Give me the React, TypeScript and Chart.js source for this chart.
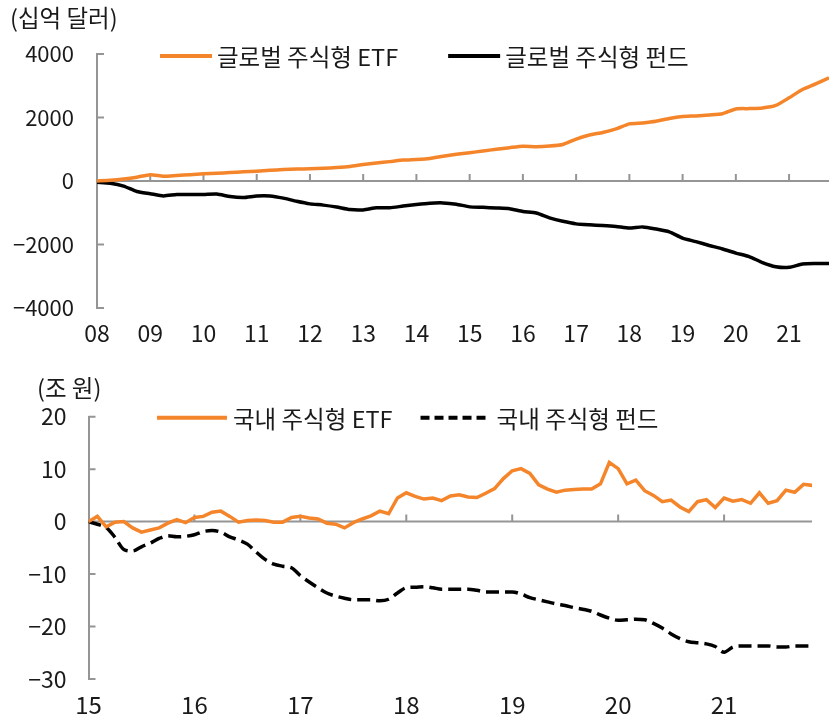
import React, { useEffect, useRef } from 'react';
import { Chart, registerables } from 'chart.js';

Chart.register(...registerables);

const FONT = "'Noto Sans CJK KR', 'Noto Sans', sans-serif";
const ORANGE = '#F5852A';
const BLACK = '#000000';
const AXIS = '#959595';
const TEXT = '#1a1a1a';

// ---------- Top chart: global equity ETF vs fund (billion USD), quarterly from 2008 ----------
const TOP_TITLE = '(십억 달러)';
const TOP_START = 8;
const TOP_STEP = 0.25;
const TOP_SERIES_NAMES = ['글로벌 주식형 ETF', '글로벌 주식형 펀드'];
const GLOBAL_ETF = [
  0, 20, 60, 120, 200, 150, 175, 200,
  225, 245, 265, 290, 310, 335, 360, 375,
  385, 400, 425, 460, 520, 570, 610, 660,
  680, 710, 780, 840, 890, 945, 1000, 1050,
  1095, 1080, 1100, 1150, 1320, 1450, 1530, 1640,
  1800, 1830, 1880, 1970, 2030, 2050, 2080, 2120,
  2270, 2280, 2300, 2380, 2620, 2880, 3060, 3250,
];
const GLOBAL_FUND = [
  -40, -70, -160, -330, -400, -470, -425, -425,
  -425, -410, -490, -520, -470, -470, -540, -640,
  -720, -760, -820, -900, -910, -845, -845, -790,
  -740, -700, -690, -730, -815, -830, -850, -875,
  -960, -1010, -1160, -1270, -1350, -1380, -1400, -1430,
  -1480, -1445, -1510, -1600, -1800, -1910, -2030, -2140,
  -2270, -2380, -2570, -2700, -2720, -2615, -2600, -2600,
];
const TOP_YEARS = [8, 9, 10, 11, 12, 13, 14, 15, 16, 17, 18, 19, 20, 21];
const TOP_YEAR_LABELS = ['08', '09', '10', '11', '12', '13', '14', '15', '16', '17', '18', '19', '20', '21'];
const TOP_Y_TICKS = [-4000, -2000, 0, 2000, 4000];

// ---------- Bottom chart: domestic equity ETF vs fund (trillion KRW), monthly from 2015 ----------
const BOT_TITLE = '(조 원)';
const BOT_START = 15;
const BOT_STEP = 1 / 12;
const BOT_SERIES_NAMES = ['국내 주식형 ETF', '국내 주식형 펀드'];
const KR_ETF = [
  0, 1.0, -1.0, -0.1, 0, -1.2, -2.0, -1.6, -1.2, -0.3, 0.4, -0.2,
  0.8, 1.0, 1.8, 2.0, 1.0, -0.1, 0.2, 0.3, 0.2, -0.1, -0.1, 0.8,
  1.0, 0.7, 0.5, -0.3, -0.5, -1.2, -0.2, 0.5, 1.1, 2.0, 1.5, 4.5,
  5.5, 4.8, 4.3, 4.5, 4.0, 4.9, 5.1, 4.7, 4.6, 5.4, 6.3, 8.2,
  9.7, 10.1, 9.2, 7.0, 6.2, 5.6, 6.0, 6.1, 6.2, 6.2, 7.2, 11.3,
  10.1, 7.2, 7.9, 5.9, 5.0, 3.8, 4.1, 2.8, 1.9, 3.8, 4.2, 2.7,
  4.5, 3.9, 4.2, 3.5, 5.5, 3.5, 4.0, 6.0, 5.6, 7.1, 6.9,
];
const KR_FUND = [
  0, -0.5, -1.1, -3.0, -5.3, -5.6, -4.8, -4.1, -3.2, -2.7, -2.9, -2.8,
  -2.5, -1.9, -1.7, -2.0, -2.9, -3.5, -4.3, -5.8, -7.2, -8.1, -8.5, -8.8,
  -10.3, -11.5, -12.6, -13.6, -14.2, -14.6, -14.9, -14.9, -14.9, -15.1, -14.8, -13.6,
  -12.6, -12.5, -12.4, -12.6, -12.9, -12.9, -12.9, -12.9, -13.1, -13.4, -13.4, -13.4,
  -13.4, -13.8, -14.5, -14.9, -15.3, -15.7, -16.0, -16.4, -16.7, -17.1, -17.8, -18.4,
  -18.8, -18.7, -18.6, -18.7, -19.4, -20.3, -21.4, -22.3, -22.9, -23.1, -23.3, -23.8,
  -24.9, -23.9, -23.7, -23.7, -23.7, -23.7, -23.9, -23.9, -23.7, -23.7, -23.7,
];
const BOT_YEARS = [15, 16, 17, 18, 19, 20, 21];
const BOT_YEAR_LABELS = ['15', '16', '17', '18', '19', '20', '21'];
const BOT_Y_TICKS = [-30, -20, -10, 0, 10, 20];

const toPoints = (vals: number[], start: number, step: number) =>
  vals.map((v, i) => ({ x: start + i * step, y: v }));

const fmtNum = (v: number) => (v < 0 ? '\u2212' + Math.abs(v) : String(v));

const decorPlugin = {
  id: 'decor',
  beforeDatasetsDraw(chart: any, _args: any, opts: any) {
    const { ctx, chartArea } = chart;
    const xs = chart.scales.x;
    const ys = chart.scales.y;
    const y0 = ys.getPixelForValue(0);
    ctx.save();
    ctx.strokeStyle = AXIS;
    ctx.lineWidth = 2;
    ctx.beginPath();
    ctx.moveTo(chartArea.left, y0);
    ctx.lineTo(chartArea.right, y0);
    ys.ticks.forEach((t: any) => {
      const y = ys.getPixelForValue(t.value);
      ctx.moveTo(chartArea.left, y);
      ctx.lineTo(chartArea.left + opts.tickLen, y);
    });
    xs.ticks.forEach((t: any) => {
      const x = xs.getPixelForValue(t.value);
      if (Math.abs(x - chartArea.left) < 2) return;
      ctx.moveTo(x, y0);
      ctx.lineTo(x, y0 - opts.tickLen);
    });
    ctx.stroke();
    ctx.restore();
  },
  afterDraw(chart: any, _args: any, opts: any) {
    const ctx = chart.ctx;
    ctx.save();
    ctx.font = `${opts.fontSize}px ${FONT}`;
    ctx.fillStyle = TEXT;
    ctx.textBaseline = 'middle';
    ctx.textAlign = 'left';
    ctx.fillText(opts.title, opts.titleX, opts.titleY);
    let x = opts.legendX;
    const y = opts.legendY;
    chart.data.datasets.forEach((ds: any) => {
      ctx.strokeStyle = ds.borderColor;
      ctx.lineWidth = opts.legendLineWidth;
      ctx.lineCap = 'butt';
      ctx.setLineDash(ds.borderDash && ds.borderDash.length ? opts.legendDash : []);
      ctx.beginPath();
      ctx.moveTo(x, y);
      ctx.lineTo(x + opts.legendLine, y);
      ctx.stroke();
      ctx.setLineDash([]);
      x += opts.legendLine + opts.legendTextGap;
      ctx.fillText(ds.label, x, y + 1);
      x += ctx.measureText(ds.label).width + opts.legendItemGap;
    });
    ctx.restore();
  },
};

function makeConfig(p: {
  datasets: any[];
  xMin: number; xMax: number; years: number[]; yearLabels: string[];
  yMin: number; yMax: number; yTicks: number[];
  top: number; right: number; axisWidth: number; xAxisHeight: number;
  yFont: number; xFont: number; yPad: number; xPad: number;
  decor: any;
}): any {
  return {
    type: 'line',
    data: { datasets: p.datasets },
    plugins: [decorPlugin],
    options: {
      animation: false,
      responsive: false,
      maintainAspectRatio: false,
      events: [],
      layout: { padding: { top: p.top, right: p.right, left: 0, bottom: 0 } },
      elements: { point: { radius: 0 } },
      plugins: { legend: { display: false }, tooltip: { enabled: false }, title: { display: false }, decor: p.decor },
      scales: {
        x: {
          type: 'linear',
          min: p.xMin,
          max: p.xMax,
          grid: { display: false, drawTicks: false },
          border: { display: false },
          afterBuildTicks: (s: any) => { s.ticks = p.years.map((v) => ({ value: v })); },
          afterFit: (s: any) => { s.height = p.xAxisHeight; },
          ticks: {
            autoSkip: false,
            maxRotation: 0,
            padding: p.xPad,
            color: TEXT,
            font: { family: FONT, size: p.xFont },
            callback: (_v: any, i: number) => p.yearLabels[i],
          },
        },
        y: {
          type: 'linear',
          min: p.yMin,
          max: p.yMax,
          grid: { display: false, drawTicks: false },
          border: { display: true, color: AXIS, width: 2 },
          afterBuildTicks: (s: any) => { s.ticks = p.yTicks.map((v) => ({ value: v })); },
          afterFit: (s: any) => { s.width = p.axisWidth; },
          ticks: {
            padding: p.yPad,
            color: TEXT,
            font: { family: FONT, size: p.yFont },
            callback: (v: any) => fmtNum(Number(v)),
          },
        },
      },
    },
  };
}

function ChartCanvas({ config, width, height, top }: { config: () => any; width: number; height: number; top: number }) {
  const ref = useRef<HTMLCanvasElement | null>(null);
  useEffect(() => {
    if (!ref.current) return;
    const chart = new Chart(ref.current, config());
    return () => chart.destroy();
  }, []);
  return (
    <canvas
      ref={ref}
      width={width}
      height={height}
      style={{ position: 'absolute', left: 0, top, width, height, display: 'block' }}
    />
  );
}

const topConfig = () =>
  makeConfig({
    datasets: [
      {
        label: TOP_SERIES_NAMES[0],
        data: toPoints(GLOBAL_ETF, TOP_START, TOP_STEP),
        borderColor: ORANGE,
        borderWidth: 3.5,
        tension: 0.2,
      },
      {
        label: TOP_SERIES_NAMES[1],
        data: toPoints(GLOBAL_FUND, TOP_START, TOP_STEP),
        borderColor: BLACK,
        borderWidth: 3.5,
        tension: 0.2,
      },
    ],
    xMin: 8, xMax: 21.75, years: TOP_YEARS, yearLabels: TOP_YEAR_LABELS,
    yMin: -4000, yMax: 4000, yTicks: TOP_Y_TICKS,
    top: 54, right: 0, axisWidth: 97, xAxisHeight: 42,
    yFont: 22, xFont: 23, yPad: 23, xPad: 11,
    decor: {
      title: TOP_TITLE, titleX: 10, titleY: 18, fontSize: 23.5, tickLen: 7,
      legendX: 160, legendY: 56, legendLine: 52, legendTextGap: 5, legendItemGap: 50,
      legendLineWidth: 4, legendDash: [9, 5],
    },
  });

const botConfig = () =>
  makeConfig({
    datasets: [
      {
        label: BOT_SERIES_NAMES[0],
        data: toPoints(KR_ETF, BOT_START, BOT_STEP),
        borderColor: ORANGE,
        borderWidth: 3.5,
        tension: 0,
      },
      {
        label: BOT_SERIES_NAMES[1],
        data: toPoints(KR_FUND, BOT_START, BOT_STEP),
        borderColor: BLACK,
        borderWidth: 3.5,
        borderDash: [13, 6],
        cubicInterpolationMode: 'monotone',
      },
    ],
    xMin: 15, xMax: 21.83, years: BOT_YEARS, yearLabels: BOT_YEAR_LABELS,
    yMin: -30, yMax: 20, yTicks: BOT_Y_TICKS,
    top: 66.7, right: 17, axisWidth: 88.5, xAxisHeight: 39,
    yFont: 23, xFont: 24, yPad: 22, xPad: 11,
    decor: {
      title: BOT_TITLE, titleX: 37, titleY: 38, fontSize: 23.5, tickLen: 7,
      legendX: 157, legendY: 67.7, legendLine: 70, legendTextGap: 6, legendItemGap: 28,
      legendLineWidth: 4, legendDash: [9, 5],
    },
  });

export default function App() {
  return (
    <div style={{ position: 'absolute', left: 0, top: 0, width: 829, height: 718, background: '#ffffff', overflow: 'hidden' }}>
      <ChartCanvas config={topConfig} width={829} height={350} top={0} />
      <ChartCanvas config={botConfig} width={829} height={368} top={350} />
    </div>
  );
}
